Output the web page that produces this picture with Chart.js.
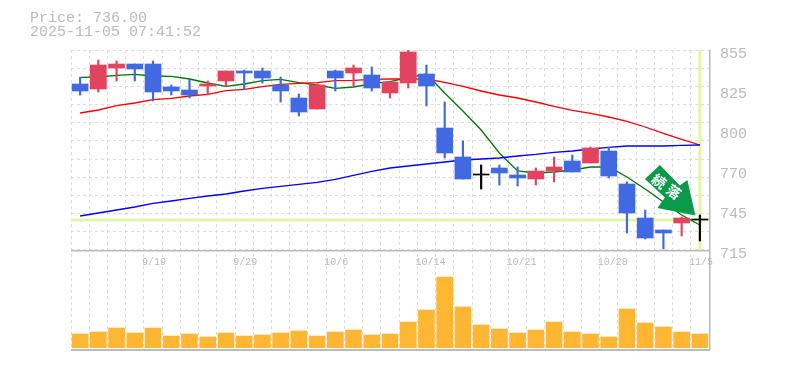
<!DOCTYPE html>
<html>
<head>
<meta charset="utf-8">
<style>
  html, body { margin: 0; padding: 0; background: #fff; }
  #wrap { position: relative; width: 785px; height: 370px; overflow: hidden; }
  #info { position: absolute; left: 30px; top: 12px; font: 15px/14px "Liberation Mono", monospace; color: #bbb; white-space: pre; }
</style>
<script src="https://cdn.jsdelivr.net/npm/chart.js@4/dist/chart.umd.min.js"></script>
</head>
<body>
<div id="wrap">
  <div id="info">Price: 736.00
2025-11-05 07:41:52</div>
  <canvas id="chart" width="785" height="370"></canvas>
</div>
<script>
const dates = ["9/12","9/16","9/17","9/18","9/19","9/22","9/24","9/25","9/26","9/29","9/30","10/1","10/2","10/3","10/6","10/7","10/8","10/9","10/10","10/14","10/15","10/16","10/17","10/20","10/21","10/22","10/23","10/24","10/27","10/28","10/29","10/30","10/31","11/4","11/5"]
const shownDates = ["9/19","9/29","10/6","10/14","10/21","10/28","11/5"]

const open  = [831.2,827.7,842.4,845.2,845.2,829.1,827,829.8,833.3,840.3,840.3,830.5,821.4,813.7,840.3,838.9,837.5,824.9,831.9,838.2,800.4,780.1,767.5,772.4,767.5,764.7,770.3,777.3,775.9,784.3,761.2,737.4,729,733.9,736]
const close = [826.3,844.5,845.2,841.7,825.6,826.3,823.5,831.2,840.3,838.9,835.4,826.3,811.6,830.5,835.4,842.4,828.4,832.6,853.6,829.8,782.9,764.7,767.5,768.9,765.4,770.3,773.1,769.6,786.4,766.8,740.9,723.4,726.9,737.4,736]
const high  = [835.9,848,847.3,845.2,847.3,830.5,834,833.3,840.3,841,842.4,836.1,824.2,831.2,841,844.5,843.1,832.6,855,844.5,818.6,791.3,774.5,774.5,773.1,772.4,780.1,781.5,787.1,787.1,762.6,743,729,738.1,739.5]
const low   = [823.5,825.6,833.3,833.3,819.3,823.5,821.4,823.5,829.8,827.7,831.9,818.6,808.8,813.7,826.3,829.8,826.3,821.4,828.4,815.8,779.4,764.7,757.7,760.5,759.8,760.5,762.6,769.6,775.9,765.4,726.9,722.7,715.7,724.8,721.3]

const maShort = [835.8,836.1,837.2,837.9,836.8,836.6,834.7,831.9,829.6,831.2,833.5,834.4,832.1,830.5,828.2,829.1,831.4,832.8,835.6,838.2,824.9,812.3,799,782.9,770.3,768.9,769.6,771,773.1,773.1,766.1,757.7,748.6,739.5,732.5]
const maMid   = [810.9,813,816,817.9,820.2,821.2,822.8,824,826.5,827.5,829.3,831,831.7,832.1,833.5,833.8,834.5,834.7,834.7,834.7,832.3,829.5,826.3,823.5,821.4,818.6,815.5,812.7,810.6,808.1,805,801.1,796.6,792.4,788.5]
const maLong  = [738.8,740.9,743,745.1,747.6,749.3,751.1,752.8,754.2,756.3,758.1,759.6,760.9,762.3,764.4,767.2,770,772.4,773.8,775.2,776.6,778,778.7,779.4,780.8,781.9,783.3,784.3,785.7,786.8,787.8,787.8,787.8,788.2,788.5]

const volume = [14,16,20,15,20,12,14,11,15,12,13,15,17,12,16,18,13,14,26,38,71,41,23,19,15,18,26,16,14,11,39,25,21,16,14]

const priceTicks = [715,743,771,799,827,855]
const priceLabels = ["715","745","770","800","825","855"]
const lastPrice = 736
const arrowText = ["続","落"]

const UP = "#e2435f", DOWN = "#4169e1", FLAT = "#000"
const candleColor = (i) => close[i] > open[i] ? UP : close[i] < open[i] ? DOWN : FLAT
const candleColors = dates.map((d, i) => candleColor(i))

const panelLines = {
  id: "panelLines",
  beforeDatasetsDraw(chart) {
    const { ctx, chartArea: a, scales } = chart
    const lastX = scales.x.getPixelForValue(dates.length - 1)
    const top = scales.y.getPixelForValue(855)
    const split = scales.y.getPixelForValue(715)
    const py = scales.y.getPixelForValue(lastPrice)
    ctx.save()
    // current price cross
    ctx.fillStyle = "#e4f5a8"
    ctx.fillRect(lastX - 1.5, top, 3, split - top)
    ctx.fillRect(a.left, py - 1.5, a.right - a.left + 1, 3)
    // panel frame
    ctx.fillStyle = "#bbb"
    ctx.fillRect(a.left, split, a.right - a.left + 1, 1.5)
    ctx.fillRect(a.left, a.bottom + 1, a.right - a.left + 1, 2)
    ctx.fillRect(a.right, a.top, 1.5, a.bottom - a.top + 2)
    ctx.restore()
  }
}

// stamp pointing at the last candle
const arrowStamp = {
  id: "arrowStamp",
  afterDatasetsDraw(chart) {
    const { ctx, scales } = chart
    const tipX = scales.x.getPixelForValue(dates.length - 1) - 4.5
    const tipY = scales.y.getPixelForValue(lastPrice) - 3.5
    const shape = [[-35.5,-51.5],[-15.5,-31],[-8,-36.5],[0,-1],[-38,-8.5],[-30.5,-19],[-50.5,-37.5]]
    ctx.save()
    ctx.translate(tipX, tipY)
    ctx.fillStyle = "#0a9a4a"
    ctx.beginPath()
    shape.forEach((p, i) => i ? ctx.lineTo(p[0], p[1]) : ctx.moveTo(p[0], p[1]))
    ctx.closePath()
    ctx.fill()
    ctx.translate(-29, -30)
    ctx.rotate(Math.PI / 5)
    ctx.fillStyle = "#fff"
    ctx.font = "bold 14px 'Noto Sans CJK JP'"
    ctx.textAlign = "center"
    ctx.textBaseline = "middle"
    ctx.fillText(arrowText[0], -9, 0)
    ctx.fillText(arrowText[1], 9, 0)
    ctx.restore()
  }
}

const priceLabelsDraw = {
  id: "priceLabelsDraw",
  afterDraw(chart) {
    const { ctx, scales } = chart
    ctx.save()
    ctx.fillStyle = "#bbb"
    ctx.font = "15px 'Liberation Mono'"
    ctx.textBaseline = "middle"
    priceTicks.forEach((p, i) => ctx.fillText(priceLabels[i], 720, scales.y.getPixelForValue(p) + 4))
    ctx.restore()
  }
}

const lineSet = (data, color) => ({
  type: "line", data, yAxisID: "y", borderColor: color, borderWidth: 1.3,
  pointRadius: 0, tension: 0, order: 5
})

new Chart(document.getElementById("chart"), {
  data: {
    labels: dates,
    datasets: [
      lineSet(maLong, "#0000ff"),
      lineSet(maMid, "#ff0000"),
      lineSet(maShort, "#007700"),
      {
        type: "bar", yAxisID: "y", order: 2, grouped: false, barThickness: 1.5,
        data: dates.map((d, i) => [low[i], high[i]]),
        backgroundColor: candleColors
      },
      {
        type: "bar", yAxisID: "y", order: 1, grouped: false, barThickness: 16, minBarLength: 1,
        data: dates.map((d, i) => [open[i], close[i]]),
        backgroundColor: candleColors
      },
      {
        type: "bar", yAxisID: "yVol", order: 3, grouped: false, barThickness: 16,
        data: volume,
        backgroundColor: "#ffb733"
      }
    ]
  },
  options: {
    responsive: false,
    animation: false,
    layout: { padding: { left: 71, top: 50, right: 0, bottom: 22 } },
    plugins: { legend: { display: false }, tooltip: { enabled: false } },
    scales: {
      x: {
        position: { y: 715 },
        grid: { color: "#dcdcdc", drawTicks: false, offset: true },
        border: { display: false, dash: [3, 3] },
        ticks: {
          autoSkip: false, maxRotation: 0, padding: 6, color: "#bbb",
          align: "start", labelOffset: -11,
          font: { family: "Liberation Mono", size: 10 },
          callback(v, i) { return shownDates.includes(dates[i]) ? dates[i] : "" }
        }
      },
      // price axis, runs past 715 so the volume panel fits below it
      y: {
        position: "right", min: 646.4, max: 855,
        afterFit(s) { s.width = 76 },
        afterBuildTicks(s) { s.ticks = [0,1,2,3,4,5,6,7,8,9,10,11].map(k => ({ value: 715 + k * 140 / 11 })) },
        grid: { color: "#dcdcdc", drawTicks: false },
        border: { display: false, dash: [3, 3] },
        ticks: { display: false }
      },
      yVol: { display: false, min: 0, max: 298 }
    }
  },
  plugins: [panelLines, arrowStamp, priceLabelsDraw]
})
</script>
</body>
</html>
